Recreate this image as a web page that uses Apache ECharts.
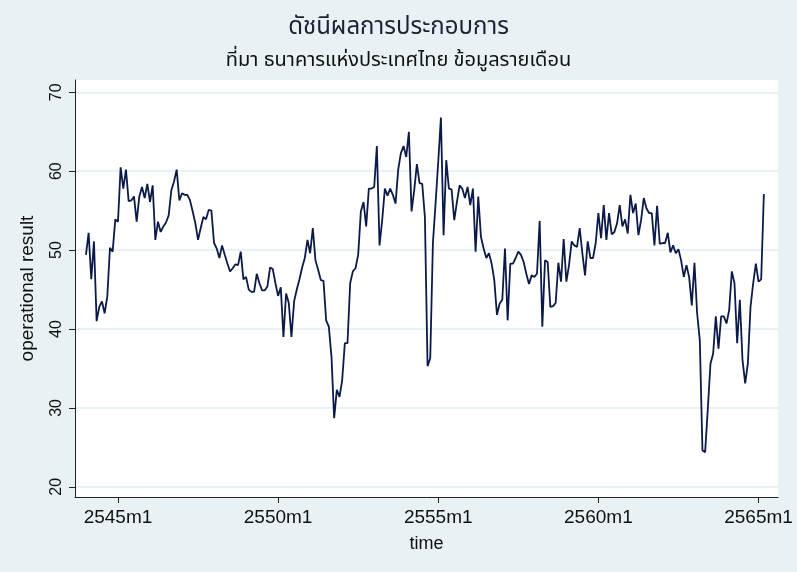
<!DOCTYPE html>
<html><head><meta charset="utf-8">
<script src="https://cdn.jsdelivr.net/npm/echarts@6/dist/echarts.min.js"></script>
<style>html,body{margin:0;padding:0;background:#e8f1f3}#c{width:797px;height:572px}</style>
</head><body><div id="c"></div>
<script>
// Monthly series starting 2544m1 (offset -12 months from 2545m1)
const firstOffset = -12;
const values = [
49.4,52.2,46.3,51.1,41.0,42.8,43.5,42.0,44.1,50.3,49.8,53.9,
53.6,60.5,57.8,60.2,56.2,56.3,56.8,53.6,56.8,58.0,56.6,58.4,
56.1,58.2,51.3,53.6,52.3,53.0,53.5,54.4,57.6,58.7,60.2,56.3,
57.2,57.0,57.0,56.3,54.9,53.4,51.3,52.8,54.2,53.9,55.1,55.0,
50.9,50.2,49.0,50.6,49.4,48.3,47.3,47.7,48.2,48.1,49.8,46.3,
46.6,45.0,44.7,44.7,47.0,45.8,44.9,44.9,45.4,47.8,47.6,45.8,
44.2,45.3,39.0,44.5,43.3,39.0,43.5,45.0,46.3,47.8,49.0,51.3,
49.6,52.8,48.7,47.5,46.2,46.1,41.1,40.3,36.5,28.7,32.3,31.4,
33.5,38.2,38.2,45.8,47.3,47.7,49.4,54.9,56.1,53.0,57.8,57.8,
58.0,63.2,50.6,53.8,57.8,56.9,57.8,57.0,55.9,60.2,62.3,63.2,
61.8,65.0,54.9,57.6,60.9,58.5,58.4,54.2,35.3,36.3,50.9,55.9,
61.2,66.8,51.9,61.4,57.8,57.7,53.8,56.1,58.2,57.8,56.6,58.0,
55.7,57.8,49.8,56.8,51.7,50.2,49.0,49.6,48.3,46.2,41.8,43.2,
43.7,50.2,41.1,48.3,48.3,49.0,49.8,49.4,48.5,47.0,45.7,46.8,
46.6,47.0,53.7,40.3,48.7,48.5,42.8,42.9,43.3,48.4,46.0,51.4,
46.0,48.1,51.1,50.6,50.4,52.8,49.6,46.8,51.1,49.0,49.0,50.9,
54.7,51.5,55.7,51.3,54.7,52.0,52.3,53.4,55.7,53.0,53.9,52.1,
57.0,54.7,55.9,51.9,53.8,56.6,55.3,54.7,54.7,50.6,55.6,50.8,
50.9,50.9,52.2,49.7,50.6,49.6,50.1,48.7,46.6,48.1,46.6,43.0,
48.4,42.0,38.6,24.6,24.4,29.9,35.6,36.9,41.6,37.5,41.6,41.6,
40.7,42.4,47.3,45.8,38.2,43.7,36.1,33.1,35.6,42.8,45.8,48.3,
46.0,46.3,57.1
];
const xTickValues = [0, 60, 120, 180, 240];
const xTickLabels = ['2545m1','2550m1','2555m1','2560m1','2565m1'];
const yTickValues = [20, 30, 40, 50, 60, 70];

const data = values.map((v, i) => [firstOffset + i, v]);
const thai = "'Noto Sans Thai','Noto Sans Thai Looped','Loma','Garuda','Norasi',sans-serif";
const sans = "'Liberation Sans',Arial,sans-serif";

const chart = echarts.init(document.getElementById('c'), null, {renderer: 'canvas'});
chart.setOption({
  backgroundColor: '#e8f1f3',
  animation: false,
  title: [
    {text: 'ดัชนีผลการประกอบการ', left: 'center', top: 12,
     textStyle: {fontFamily: thai, fontSize: 24, fontWeight: 'normal', color: '#1a2236'}},
    {text: 'ที่มา ธนาคารแห่งประเทศไทย ข้อมูลรายเดือน', left: 'center', top: 47,
     textStyle: {fontFamily: thai, fontSize: 20, fontWeight: 'normal', color: '#111'}}
  ],
  grid: {left: 75, right: 19, top: 80, bottom: 75, show: true, backgroundColor: '#ffffff', borderWidth: 0},
  xAxis: {
    type: 'value', min: -16.1, max: 247.3,
    name: 'time', nameLocation: 'middle', nameGap: 38,
    nameTextStyle: {fontFamily: sans, fontSize: 18, color: '#111'},
    axisLine: {show: true, onZero: false, lineStyle: {color: '#222', width: 1}},
    axisTick: {show: true, length: 6, customValues: xTickValues, lineStyle: {color: '#222'}},
    axisLabel: {customValues: xTickValues, margin: 11, fontFamily: sans, fontSize: 19, color: '#111',
      formatter: v => { const k = xTickValues.indexOf(v); return k >= 0 ? xTickLabels[k] : ''; }},
    splitLine: {show: false}
  },
  yAxis: {
    type: 'value', min: 18.71, max: 71.56,
    name: 'operational result', nameLocation: 'middle', nameGap: 38, nameRotate: 90,
    nameTextStyle: {fontFamily: sans, fontSize: 19, color: '#111'},
    axisLine: {show: true, onZero: false, lineStyle: {color: '#222', width: 1}},
    axisTick: {show: true, length: 6, customValues: yTickValues, lineStyle: {color: '#222'}},
    axisLabel: {customValues: yTickValues, rotate: 90, margin: 10, fontFamily: sans, fontSize: 16, color: '#111',
      formatter: v => String(v)},
    splitLine: {show: true, lineStyle: {color: '#e1ecef', width: 1.5}}
  },
  series: [{
    type: 'line', data: data, showSymbol: false, symbol: 'none',
    lineStyle: {color: '#0b1a48', width: 1.8}
  }]
});
</script></body></html>
